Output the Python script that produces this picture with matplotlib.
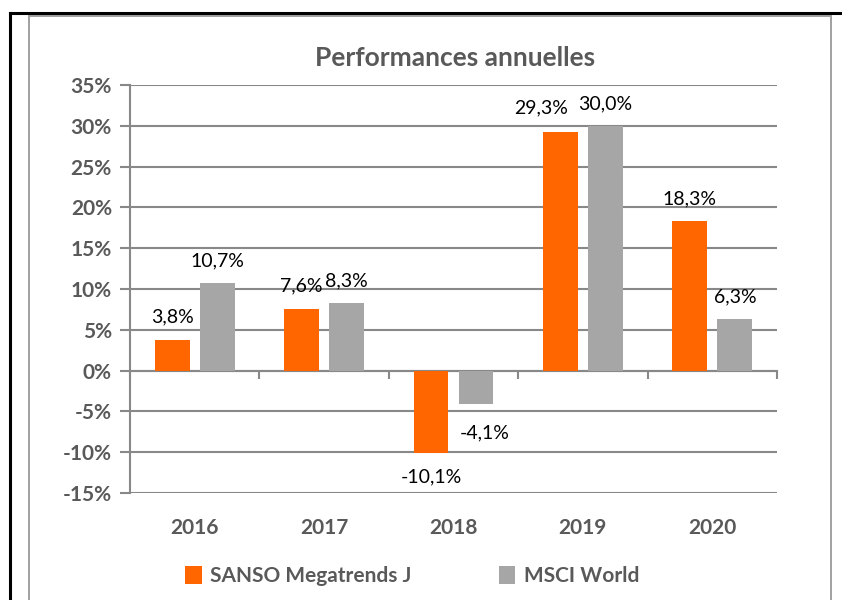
import matplotlib
matplotlib.use('Agg')
import matplotlib.pyplot as plt
from matplotlib.lines import Line2D
from matplotlib.patches import Rectangle
import matplotlib.transforms as mtransforms
import numpy as np

years = ['2016', '2017', '2018', '2019', '2020']
sanso = [3.8, 7.6, -10.1, 29.3, 18.3]
msci = [10.7, 8.3, -4.1, 30.0, 6.3]
sanso_labels = ['3,8%', '7,6%', '-10,1%', '29,3%', '18,3%']
msci_labels = ['10,7%', '8,3%', '-4,1%', '30,0%', '6,3%']
y_ticks = [-15, -10, -5, 0, 5, 10, 15, 20, 25, 30, 35]

orange = '#FF6600'
grey = '#A6A6A6'
txt = '#595959'
line_c = '#888888'

plt.rcParams['font.family'] = ['Lato', 'DejaVu Sans']

fig = plt.figure(figsize=(8.42, 6.0), dpi=100)

# outer frame (black) and chart box (grey)
fig.add_artist(Line2D([10 / 842, 1.0], [1 - 13 / 600, 1 - 13 / 600], color='black', lw=2.2))
fig.add_artist(Line2D([10 / 842, 10 / 842], [0, 1 - 13 / 600], color='black', lw=2.2))
fig.add_artist(Rectangle((29 / 842, -0.01), (831 - 29) / 842, 1.01 - 16 / 600,
                         fill=False, edgecolor='#A0A0A0', lw=1.4))

ax = fig.add_axes([130 / 842, 107 / 600, 647 / 842, 408 / 600])

x = np.arange(len(years))
w = 0.27
off = 0.174
b1 = ax.bar(x - off, sanso, w, color=orange, zorder=3)
b2 = ax.bar(x + off, msci, w, color=grey, zorder=3)

# label nudges (points) where the original moved labels to avoid overlap
nudge = {'29,3%': (-14, 17), '-4,1%': (6.5, -21)}

for bars, labels in ((b1, sanso_labels), (b2, msci_labels)):
    for rect, lab in zip(bars, labels):
        h = rect.get_height()
        cx = rect.get_x() + rect.get_width() / 2
        dxy = nudge.get(lab, (0, 16 if h >= 0 else -17))
        ax.annotate(lab, (cx, h), xytext=dxy, textcoords='offset points',
                    ha='center', va='center', fontsize=14, color='black')

ax.set_xlim(-0.5, len(years) - 0.5)
ax.set_ylim(-15, 35)
ax.set_yticks(y_ticks)
ax.set_yticklabels([f'{t}%' for t in y_ticks], fontsize=15, fontweight='bold', color=txt)
ax.yaxis.grid(True, color=line_c, lw=1.5, zorder=0)
ax.tick_params(axis='y', length=7, width=1.5, color=line_c, pad=6)

for s in ('top', 'right'):
    ax.spines[s].set_visible(False)
ax.spines['left'].set_color(line_c)
ax.spines['left'].set_linewidth(1.5)
ax.spines['bottom'].set_position(('data', 0))
ax.spines['bottom'].set_color(line_c)
ax.spines['bottom'].set_linewidth(1.5)
ax.set_xticks(np.arange(len(years) + 1) - 0.5)
ax.set_xticklabels([])
ax.tick_params(axis='x', length=6, width=1.5, color=line_c, direction='out')

trans = mtransforms.blended_transform_factory(ax.transData, ax.transAxes)
for xi, yr in zip(x, years):
    ax.text(xi, -0.085, yr, transform=trans, ha='center', va='center',
            fontsize=15, fontweight='bold', color=txt)

fig.text(455 / 842, 1 - 58 / 600, 'Performances annuelles', ha='center', va='center',
         fontsize=19, fontweight='bold', color=txt)

# legend
leg = fig.legend([b1, b2], ['SANSO Megatrends J', 'MSCI World'], loc='center',
                 bbox_to_anchor=(412 / 842, 1 - 576 / 600), ncol=2, frameon=False,
                 prop={'size': 15, 'weight': 'bold'}, handlelength=0.8, handleheight=1.0,
                 handletextpad=0.4, columnspacing=4.2)
for t in leg.get_texts():
    t.set_color(txt)

fig.savefig('out.png', dpi=100)
